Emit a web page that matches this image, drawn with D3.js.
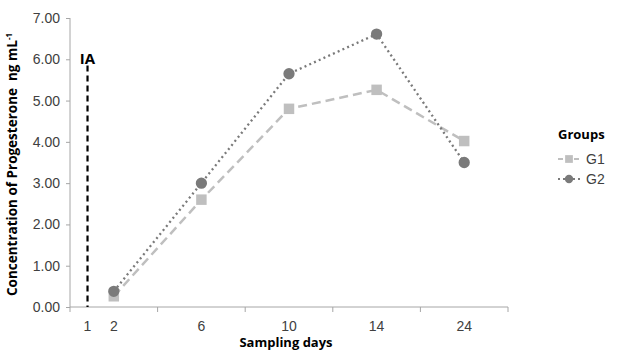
<!DOCTYPE html>
<html>
<head>
<meta charset="utf-8">
<script src="https://cdn.jsdelivr.net/npm/d3@7"></script>
<style>
  body { margin: 0; background: #fff; }
  svg { display: block; }
  .tick text { font-family: "Liberation Sans", Arial, sans-serif; font-size: 14px; fill: #404040; }
  .title { font-family: "Open Sans", sans-serif; font-weight: bold; font-size: 13px; fill: #000; }
</style>
</head>
<body>
<svg class="js-chart"></svg>
<script>
var days = ["2", "6", "10", "14", "24"];
var g1Values = [0.26, 2.60, 4.80, 5.26, 4.02];
var g2Values = [0.38, 3.00, 5.65, 6.61, 3.50];
var yTicks = [0, 1, 2, 3, 4, 5, 6, 7];
var iaDay = "1";

var width = 627, height = 353;
var margin = { top: 18, right: 137, bottom: 46, left: 70 };
var plotW = 508 - margin.left, plotH = height - margin.top - margin.bottom;

var svg = d3.select(".js-chart").attr("width", width).attr("height", height);
var g = svg.append("g").attr("transform", "translate(" + margin.left + "," + margin.top + ")");

var x = d3.scaleBand().domain(days).range([0, plotW]);
var y = d3.scaleLinear().domain([0, 7]).range([plotH, 0]);
var axisColor = "#a6a6a6";

// y axis
var yAxis = g.append("g")
    .call(d3.axisLeft(y).tickValues(yTicks).tickSize(4).tickPadding(6).tickFormat(d3.format(".2f")));
yAxis.selectAll("line, path").attr("stroke", axisColor);
yAxis.select(".domain").attr("d", "M0,0V" + plotH);

// x axis: separators between categories, labels in the middle
var xAxis = g.append("g").attr("transform", "translate(0," + plotH + ")");
xAxis.append("line").attr("x1", 0).attr("x2", plotW).attr("stroke", axisColor);
xAxis.selectAll(".sep").data(days)
    .enter().append("line")
    .attr("class", "sep")
    .attr("x1", function (d) { return x(d) + x.bandwidth(); })
    .attr("x2", function (d) { return x(d) + x.bandwidth(); })
    .attr("y1", 0).attr("y2", 5)
    .attr("stroke", axisColor);
xAxis.append("line").attr("x1", 0).attr("x2", 0).attr("y1", 0).attr("y2", 5).attr("stroke", axisColor);

var xc = function (d) { return x(d) + x.bandwidth() / 2; };
var iaX = x.bandwidth() * 0.2;
var tickLabels = [{ t: iaDay, px: iaX }].concat(days.map(function (d) { return { t: d, px: xc(d) }; }));
xAxis.selectAll(".lbl").data(tickLabels)
    .enter().append("text")
    .attr("class", "lbl")
    .attr("x", function (d) { return d.px; })
    .attr("y", 24)
    .attr("text-anchor", "middle")
    .style("font-family", "'Liberation Sans', Arial, sans-serif")
    .style("font-size", "14px")
    .style("fill", "#404040")
    .text(function (d) { return d.t; });

// IA marker
g.append("line")
    .attr("x1", iaX).attr("x2", iaX)
    .attr("y1", y(5.85)).attr("y2", plotH)
    .attr("stroke", "#000").attr("stroke-width", 2.2)
    .attr("stroke-dasharray", "6,4");
g.append("text").attr("class", "title")
    .attr("x", iaX).attr("y", y(6.0) + 5)
    .attr("text-anchor", "middle")
    .style("font-size", "15px")
    .text("IA");

var series = [
    { name: "G1", values: g1Values, color: "#bfbfbf", dash: "9,5", width: 2.5, shape: "square" },
    { name: "G2", values: g2Values, color: "#7a7a7a", dash: "2,3.2", width: 2.3, shape: "circle" }
];

var line = d3.line()
    .x(function (d, i) { return xc(days[i]); })
    .y(function (d) { return y(d); });

series.forEach(function (s) {
    g.append("path")
        .datum(s.values)
        .attr("fill", "none")
        .attr("stroke", s.color)
        .attr("stroke-width", s.width)
        .attr("stroke-dasharray", s.dash)
        .attr("d", line);
    g.selectAll(".pt-" + s.name).data(s.values)
        .enter().append("path")
        .attr("class", "pt-" + s.name)
        .attr("transform", function (d, i) { return "translate(" + xc(days[i]) + "," + y(d) + ")"; })
        .attr("d", d3.symbol().type(s.shape === "square" ? d3.symbolSquare : d3.symbolCircle).size(s.shape === "square" ? 110 : 100))
        .attr("fill", s.color);
});

// axis titles
svg.append("text").attr("class", "title")
    .attr("transform", "translate(17," + (margin.top + plotH / 2 + 2) + ") rotate(-90)")
    .attr("text-anchor", "middle")
    .style("font-size", "13.5px")
    .html("Concentration of Progesterone&#160;&#160;ng mL<tspan dy='-5' font-size='8px'>-1</tspan>");

svg.append("text").attr("class", "title")
    .attr("x", margin.left + plotW / 2 - 3)
    .attr("y", 347)
    .attr("text-anchor", "middle")
    .text("Sampling days");

// legend
var legend = svg.append("g").attr("transform", "translate(558,135)");
legend.append("text").attr("class", "title").attr("x", 0).attr("y", 4).text("Groups");
series.forEach(function (s, i) {
    var row = legend.append("g").attr("transform", "translate(0," + (24 + i * 20) + ")");
    row.append("line").attr("x1", 0).attr("x2", 22)
        .attr("stroke", s.color).attr("stroke-width", 2)
        .attr("stroke-dasharray", s.shape === "square" ? "5,3" : "2,3");
    row.append("path")
        .attr("transform", "translate(11,0)")
        .attr("d", d3.symbol().type(s.shape === "square" ? d3.symbolSquare : d3.symbolCircle).size(s.shape === "square" ? 60 : 55))
        .attr("fill", s.color);
    row.append("text").attr("x", 28).attr("y", 5)
        .style("font-family", "'Liberation Sans', Arial, sans-serif")
        .style("font-size", "14px")
        .style("fill", "#404040")
        .text(s.name);
});
</script>
</body>
</html>
